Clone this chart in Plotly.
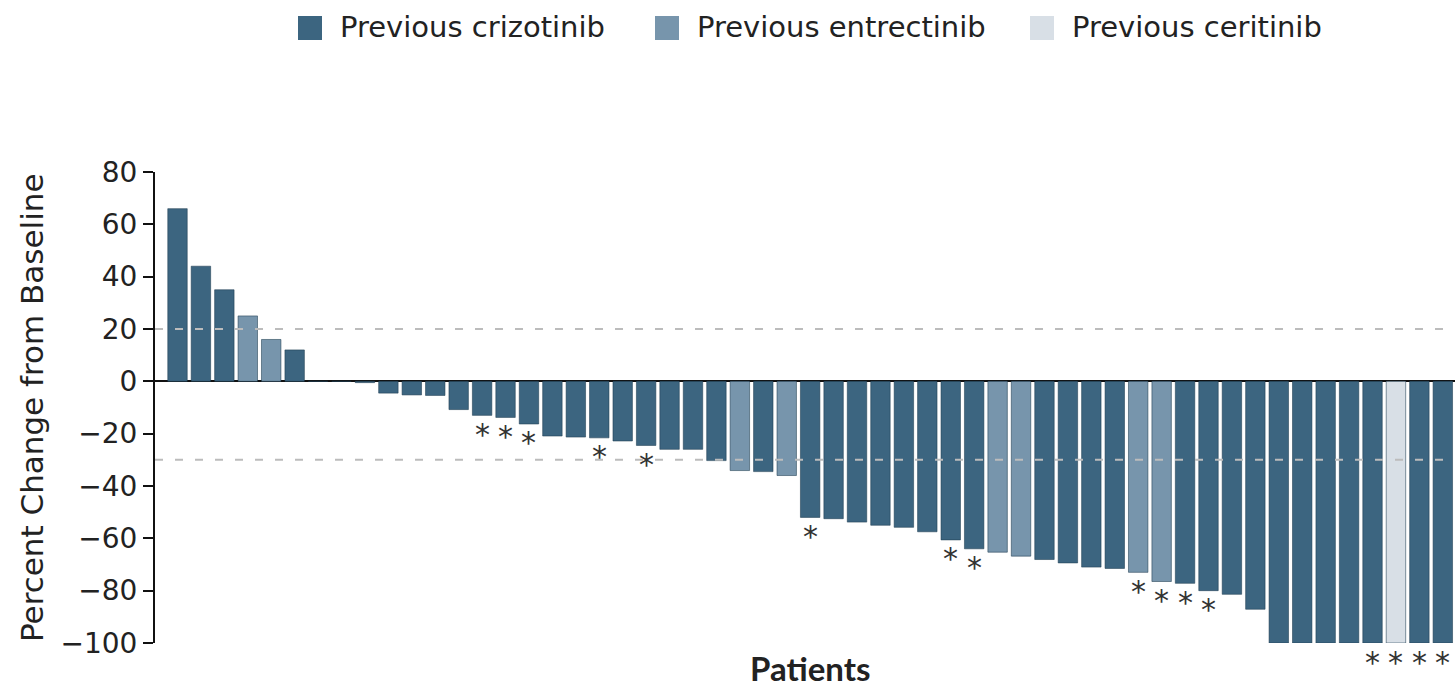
import plotly.graph_objects as go

# Percent change from baseline in tumour size, one value per patient (sorted)
pct_change = [
    66, 44, 35, 25, 16, 12, 0, 0, -0.5, -4.5,
    -5.2, -5.4, -10.8, -13, -13.8, -16.3, -20.9, -21.3, -21.6, -22.8,
    -24.5, -26, -26, -30.3, -34.1, -34.5, -36, -52, -52.5, -53.8,
    -55, -55.8, -57.5, -60.6, -64, -65.3, -66.8, -68.1, -69.4, -71,
    -71.5, -73, -76.5, -77.2, -80, -81.4, -87.1, -100, -100, -100,
    -100, -100, -100, -100, -100,
]

# Prior therapy per patient: C = crizotinib, E = entrectinib, R = ceritinib
prior_tx = [
    "C", "C", "C", "E", "E", "C", "C", "C", "C", "C",
    "C", "C", "C", "C", "C", "C", "C", "C", "C", "C",
    "C", "C", "C", "C", "E", "C", "E", "C", "C", "C",
    "C", "C", "C", "C", "C", "E", "E", "C", "C", "C",
    "C", "E", "E", "C", "C", "C", "C", "C", "C", "C",
    "C", "C", "R", "C", "C",
]

# Patients flagged with an asterisk below their bar
flagged = [
    0, 0, 0, 0, 0, 0, 0, 0, 0, 0,
    0, 0, 0, 1, 1, 1, 0, 0, 1, 0,
    1, 0, 0, 0, 0, 0, 0, 1, 0, 0,
    0, 0, 0, 1, 1, 0, 0, 0, 0, 0,
    0, 1, 1, 1, 1, 0, 0, 0, 0, 0,
    0, 1, 1, 1, 1,
]

group_keys = ["C", "E", "R"]
group_labels = ["Previous crizotinib", "Previous entrectinib", "Previous ceritinib"]
group_colors = ["#3c6580", "#7795ac", "#d8dfe6"]

y_ticks = [-100, -80, -60, -40, -20, 0, 20, 40, 60, 80]
ref_lines = [20, -30]

# ---- layout geometry (pixels) ----
W, H = 1455, 692
ML, MR, MT, MB = 155, 0, 172, 49
PW = W - ML - MR
PH = H - MT - MB

TEXT = "#222222"


def px_to_paper_x(px):
    return (px - ML) / PW


def px_to_paper_y(py):
    return (H - MB - py) / PH


color_of = dict(zip(group_keys, group_colors))
patients = list(range(len(pct_change)))

fig = go.Figure()

fig.add_trace(go.Bar(
    x=patients,
    y=pct_change,
    marker=dict(
        color=[color_of[g] for g in prior_tx],
        line=dict(color="rgba(30,60,80,0.55)", width=1),
    ),
    showlegend=False,
    hoverinfo="skip",
))

shapes = []
for v in ref_lines:
    shapes.append(dict(
        type="line", xref="paper", yref="y",
        x0=0, x1=1, y0=v, y1=v,
        line=dict(color="#bcbcbc", width=2, dash="8px,12px"),
        layer="above",
    ))

annotations = []

# asterisks just below the end of flagged bars
for p, f in zip(patients, flagged):
    if f:
        annotations.append(dict(
            xref="x", yref="y", x=p, y=pct_change[p],
            xanchor="center", yanchor="middle", yshift=-19,
            text="*", showarrow=False,
            font=dict(family="DejaVu Sans", size=30, color="#333333"),
        ))

# legend: swatch + label for each prior-therapy group
legend_left_px = [298, 655, 1030]
swatch_px = 24
legend_cy_px = 27
for lx, lab, col in zip(legend_left_px, group_labels, group_colors):
    shapes.append(dict(
        type="rect", xref="paper", yref="paper",
        x0=px_to_paper_x(lx), x1=px_to_paper_x(lx + swatch_px),
        y0=px_to_paper_y(legend_cy_px + swatch_px / 2 + 1),
        y1=px_to_paper_y(legend_cy_px - swatch_px / 2 + 1),
        fillcolor=col, line=dict(width=0),
    ))
    annotations.append(dict(
        xref="paper", yref="paper",
        x=px_to_paper_x(lx + swatch_px + 16), y=px_to_paper_y(legend_cy_px),
        xanchor="left", yanchor="middle",
        text=lab, showarrow=False,
        font=dict(family="DejaVu Sans", size=29, color=TEXT),
    ))

# axis titles
annotations.append(dict(
    xref="paper", yref="paper",
    x=px_to_paper_x(32), y=px_to_paper_y(408),
    xanchor="center", yanchor="middle", textangle=-90,
    text="Percent Change from Baseline", showarrow=False,
    font=dict(family="DejaVu Sans", size=31, color=TEXT),
))
annotations.append(dict(
    xref="paper", yref="paper",
    x=px_to_paper_x(810), y=px_to_paper_y(668),
    xanchor="center", yanchor="middle",
    text="<b>Patients</b>", showarrow=False,
    font=dict(family="Lato", size=33, color=TEXT),
))

fig.update_layout(
    width=W, height=H,
    margin=dict(l=ML, r=MR, t=MT, b=MB, pad=0),
    paper_bgcolor="white", plot_bgcolor="white",
    bargap=0.17,
    shapes=shapes,
    annotations=annotations,
    xaxis=dict(
        range=[-0.96, 54.52],
        showgrid=False, zeroline=False, showline=False,
        showticklabels=False, ticks="",
        fixedrange=True,
    ),
    yaxis=dict(
        range=[-100, 80],
        tickvals=y_ticks,
        ticks="outside", ticklen=10, tickwidth=2, tickcolor="#111111",
        showline=True, linewidth=2, linecolor="#111111",
        showgrid=False,
        zeroline=True, zerolinecolor="#111111", zerolinewidth=2,
        tickfont=dict(family="DejaVu Sans", size=28, color=TEXT),
        fixedrange=True,
    ),
)

fig.write_html("out.html")
